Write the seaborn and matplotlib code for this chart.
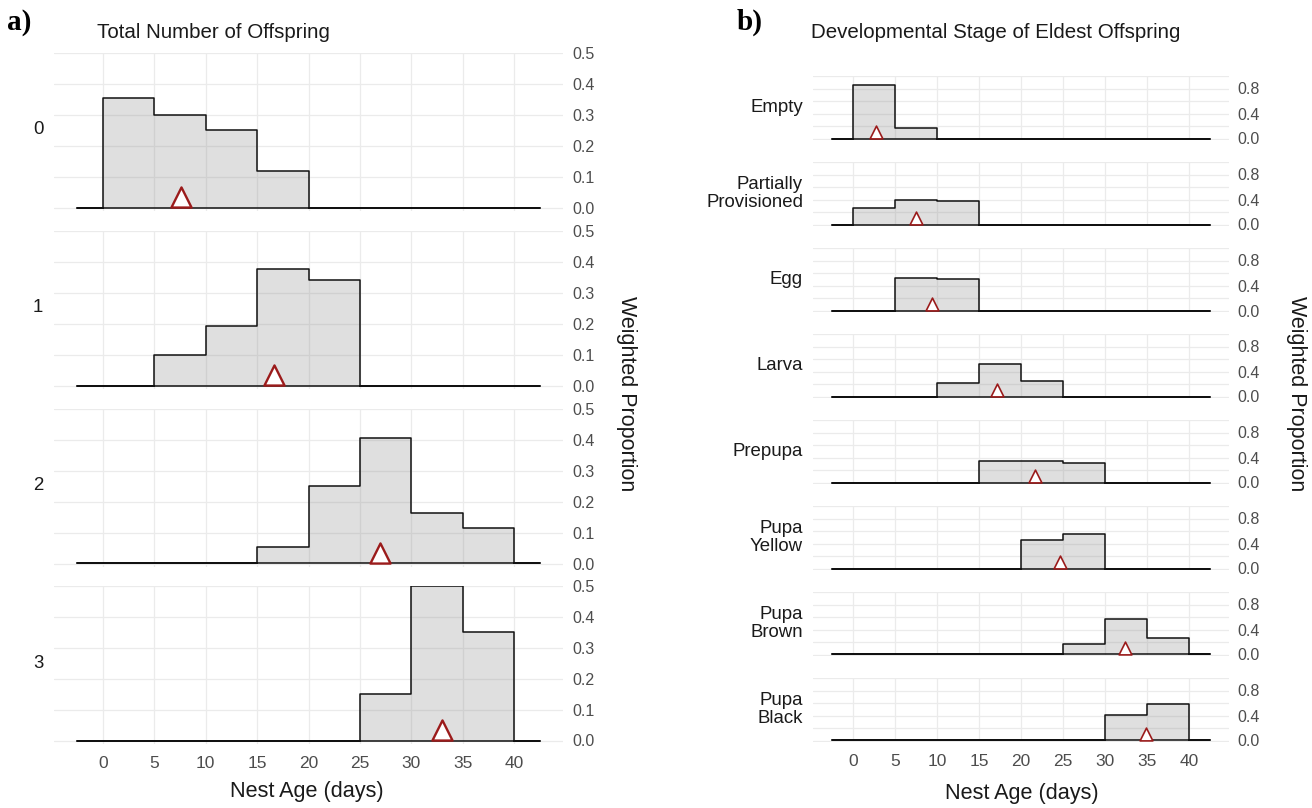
import numpy as np
import pandas as pd
import seaborn as sns
import matplotlib.pyplot as plt

sns.set_theme(style="white")
plt.rcParams['font.family'] = ['Liberation Sans', 'DejaVu Sans']

# ---------------- data ----------------
bin_edges = [-2.5, 0, 5, 10, 15, 20, 25, 30, 35, 40, 42.5]
x_ticks = [0, 5, 10, 15, 20, 25, 30, 35, 40]

offspring_labels = ["0", "1", "2", "3"]
off_0 = [0.353, 0.298, 0.250, 0.117, 0.0, 0.0, 0.0, 0.0]
off_1 = [0.0, 0.100, 0.193, 0.377, 0.340, 0.0, 0.0, 0.0]
off_2 = [0.0, 0.0, 0.0, 0.055, 0.252, 0.407, 0.165, 0.114]
off_3 = [0.0, 0.0, 0.0, 0.0, 0.0, 0.152, 0.500, 0.350]
off_means = [7.6, 16.6, 27.0, 33.0]

stage_labels = ["Empty", "Partially\nProvisioned", "Egg", "Larva", "Prepupa",
                "Pupa\nYellow", "Pupa\nBrown", "Pupa\nBlack"]
st_empty = [0.85, 0.17, 0.0, 0.0, 0.0, 0.0, 0.0, 0.0]
st_partial = [0.265, 0.39, 0.38, 0.0, 0.0, 0.0, 0.0, 0.0]
st_egg = [0.0, 0.52, 0.50, 0.0, 0.0, 0.0, 0.0, 0.0]
st_larva = [0.0, 0.0, 0.21, 0.52, 0.25, 0.0, 0.0, 0.0]
st_prepupa = [0.0, 0.0, 0.0, 0.35, 0.34, 0.31, 0.0, 0.0]
st_yellow = [0.0, 0.0, 0.0, 0.0, 0.45, 0.55, 0.0, 0.0]
st_brown = [0.0, 0.0, 0.0, 0.0, 0.0, 0.16, 0.57, 0.26]
st_black = [0.0, 0.0, 0.0, 0.0, 0.0, 0.0, 0.405, 0.587]
stage_means = [2.8, 7.5, 9.4, 17.1, 21.7, 24.7, 32.4, 34.9]

off_series = [off_0, off_1, off_2, off_3]
stage_series = [st_empty, st_partial, st_egg, st_larva, st_prepupa,
                st_yellow, st_brown, st_black]

# ---------------- layout ----------------
W, H = 1312, 808
fig = plt.figure(figsize=(W / 100, H / 100), dpi=100)
fig.patch.set_facecolor("white")

GRID = "#EBEBEB"
TICK = "#4D4D4D"
TXT = "#1A1A1A"
RED = "#9B1B1B"
centers = [(bin_edges[i] + bin_edges[i + 1]) / 2 for i in range(len(bin_edges) - 1)]


def add_ax(x0, y0, x1, y1):
    return fig.add_axes([x0 / W, 1 - y1 / H, (x1 - x0) / W, (y1 - y0) / H])


def facet(ax, weights, mean, ylim, yticks, yminor, tri_y, tri_s, tri_lw, show_x, ypad):
    df = pd.DataFrame({"age": centers, "w": [0.0] + list(weights) + [0.0]})
    ax.set_facecolor("white")
    ax.set_axisbelow(True)
    sns.histplot(data=df, x="age", weights="w", bins=bin_edges, element="step",
                 fill=True, color="#808080", alpha=0.25, edgecolor="#111111",
                 linewidth=1.1, ax=ax, legend=False)
    sns.scatterplot(x=[mean], y=[tri_y], marker="^", s=tri_s, color="white",
                    edgecolor=RED, linewidth=tri_lw, ax=ax, zorder=4, legend=False)
    ax.set_xlim(-4.75, 44.75)
    ax.set_ylim(*ylim)
    ax.set_xticks(x_ticks)
    ax.set_yticks(yticks)
    if yminor:
        ax.set_yticks(yminor, minor=True)
    ax.grid(True, which="major", color=GRID, lw=0.9)
    ax.grid(True, which="minor", axis="y", color=GRID, lw=0.9)
    ax.yaxis.tick_right()
    ax.tick_params(axis="y", length=0, pad=ypad, labelsize=11.5, labelcolor=TICK,
                   which="both")
    ax.tick_params(axis="x", length=0, pad=9, labelsize=12.5, labelcolor=TICK)
    ax.set_yticklabels([f"{t:.1f}" for t in yticks])
    if not show_x:
        ax.set_xticklabels([])
    ax.set_xlabel("")
    ax.set_ylabel("")
    for s in ax.spines.values():
        s.set_visible(False)


# panel a
a_x0, a_x1 = 54, 563
a_tops = [53, 231, 409, 586]
a_scale = 309.0  # px per unit
for i, (vals, m, lab) in enumerate(zip(off_series, off_means, offspring_labels)):
    top = a_tops[i]
    bottom = top + a_scale * 0.51
    ax = add_ax(a_x0, top, a_x1, bottom)
    facet(ax, vals, m, (-0.01, 0.5), [0.0, 0.1, 0.2, 0.3, 0.4, 0.5], None,
          0.034, 210, 1.7, i == 3, 7)
    fig.text(38 / W, 1 - (top + 77) / H, lab, ha="center", va="center",
             fontsize=13.4, color=TXT)

# panel b
b_x0, b_x1 = 813, 1229
b_scale = 62.5
for i, (vals, m, lab) in enumerate(zip(stage_series, stage_means, stage_labels)):
    top = 76 + 86 * i
    bottom = top + b_scale * 1.02
    ax = add_ax(b_x0, top, b_x1, bottom)
    facet(ax, vals, m, (-0.02, 1.0), [0.0, 0.4, 0.8], [0.2, 0.6, 1.0],
          0.104, 85, 1.2, i == 7, 6)
    fig.text(803 / W, 1 - (top + 31.5) / H, lab, ha="right", va="center",
             fontsize=13.4, color=TXT, multialignment="right", linespacing=1.12)

# titles and labels
fig.text(7 / W, 1 - 22 / H, "a)", ha="left", va="center", fontsize=21,
         fontweight="bold", family=["Liberation Serif", "DejaVu Serif"], color="black")
fig.text(737 / W, 1 - 22 / H, "b)", ha="left", va="center", fontsize=21,
         fontweight="bold", family=["Liberation Serif", "DejaVu Serif"], color="black")
fig.text(97 / W, 1 - 33 / H, "Total Number of Offspring", ha="left", va="center",
         fontsize=14.8, color=TXT)
fig.text(811 / W, 1 - 33 / H, "Developmental Stage of Eldest Offspring", ha="left",
         va="center", fontsize=14.8, color=TXT)
fig.text(307 / W, 1 - 792 / H, "Nest Age (days)", ha="center", va="center",
         fontsize=15.6, color=TXT)
fig.text(1022 / W, 1 - 794 / H, "Nest Age (days)", ha="center", va="center",
         fontsize=15.6, color=TXT)
fig.text(627 / W, 1 - 394 / H, "Weighted Proportion", ha="center", va="center",
         rotation=-90, fontsize=15.5, color=TXT)
fig.text(1297 / W, 1 - 394 / H, "Weighted Proportion", ha="center", va="center",
         rotation=-90, fontsize=15.5, color=TXT)

fig.savefig("out.png", dpi=100, facecolor="white")
